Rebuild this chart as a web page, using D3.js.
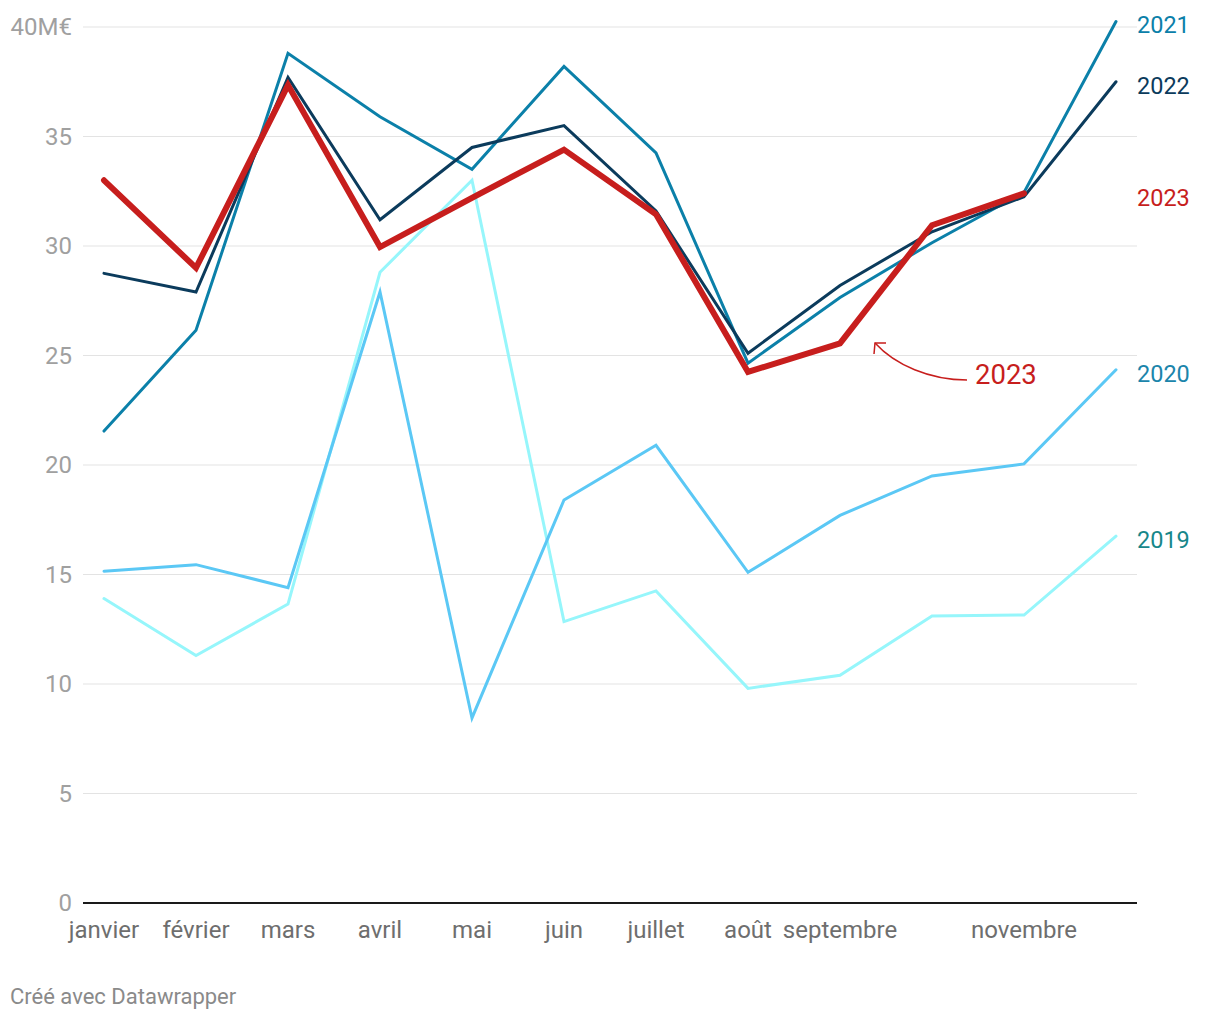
<!DOCTYPE html>
<html><head><meta charset="utf-8">
<script src="https://cdn.jsdelivr.net/npm/d3@7"></script>
<style>
html,body{margin:0;padding:0;background:#fff;}
svg{display:block;font-family:Roboto,"Noto Sans",sans-serif;}
</style></head>
<body>
<svg id="chart" width="1220" height="1020"></svg>
<script>
const months = ["janvier","février","mars","avril","mai","juin","juillet","août","septembre","octobre","novembre","décembre"];
const shownMonths = ["janvier","février","mars","avril","mai","juin","juillet","août","septembre","novembre"];
const yTicks = [0,5,10,15,20,25,30,35,40];
const v2019 = [13.9,11.3,13.65,28.8,33.0,12.85,14.25,9.8,10.4,13.1,13.15,16.75];
const v2020 = [15.15,15.45,14.4,27.9,8.45,18.4,20.9,15.1,17.7,19.5,20.05,24.35];
const v2021 = [21.55,26.15,38.8,35.9,33.5,38.2,34.25,24.65,27.65,30.15,32.45,40.25];
const v2022 = [28.75,27.9,37.7,31.2,34.5,35.5,31.6,25.1,28.2,30.65,32.25,37.5];
const v2023 = [33.0,29.0,37.35,29.95,32.2,34.4,31.45,24.25,25.55,30.95,32.4];
const seriesNames = ["2019","2020","2021","2022","2023"];
const lineColors = ["#96f6fb","#5bc8f5","#0b80a9","#0b3b5c","#c71e1d"];
const labelColors = ["#17878a","#1b85ab","#0b80a9","#0b3b5c","#c71e1d"];
const lineWidths = [3,3,3,3,6];

const svg = d3.select("#chart");
const x = d3.scalePoint().domain(months).range([104,1116]);
const y = d3.scaleLinear().domain([0,40]).range([903,27]);
const left = 83, right = 1137;

// gridlines
svg.append("g").selectAll("line").data(yTicks.filter(d=>d>0)).join("line")
  .attr("x1",left).attr("x2",right).attr("y1",d=>y(d)).attr("y2",d=>y(d))
  .attr("stroke","#e3e3e3").attr("stroke-width",1);

// y labels
svg.append("g").selectAll("text").data(yTicks).join("text")
  .attr("x",72).attr("y",d=>y(d)).attr("dy","0.35em")
  .attr("text-anchor","end").attr("fill","#a0a0a0").attr("font-size",24)
  .text(d=>d===40?"40M€":d);

// baseline
svg.append("line").attr("x1",left).attr("x2",right).attr("y1",y(0)).attr("y2",y(0))
  .attr("stroke","#1a1a1a").attr("stroke-width",2);

// x labels
svg.append("g").selectAll("text").data(shownMonths).join("text")
  .attr("x",d=>x(d)).attr("y",938).attr("text-anchor","middle")
  .attr("fill","#6e6e6e").attr("font-size",24).text(d=>d);

const data = [v2019,v2020,v2021,v2022,v2023];
const line = d3.line().x((d,i)=>x(months[i])).y(d=>y(d));
data.forEach((vals,k)=>{
  svg.append("path").datum(vals).attr("d",line).attr("fill","none")
    .attr("stroke",lineColors[k]).attr("stroke-width",lineWidths[k])
    .attr("stroke-linejoin","miter").attr("stroke-linecap","round");
});

// series labels
const labY = [540,374,25,86,198];
seriesNames.forEach((n,k)=>{
  svg.append("text").attr("x",1137).attr("y",labY[k]).attr("dy","0.35em")
    .attr("fill",labelColors[k]).attr("font-size",23.5).text(n);
});

// annotation
svg.append("text").attr("x",975).attr("y",384).attr("fill","#c71e1d")
  .attr("font-size",27.5).text("2023");
svg.append("path").attr("d","M967,380 C930,380 895,365 875,343")
  .attr("fill","none").attr("stroke","#c71e1d").attr("stroke-width",1.5);
svg.append("path").attr("d","M874,354 L875,343 L886,343")
  .attr("fill","none").attr("stroke","#c71e1d").attr("stroke-width",1.5);

// footer
svg.append("text").attr("x",10).attr("y",1004).attr("fill","#8a8a8a")
  .attr("font-size",22).text("Créé avec Datawrapper");
</script>
</body></html>
